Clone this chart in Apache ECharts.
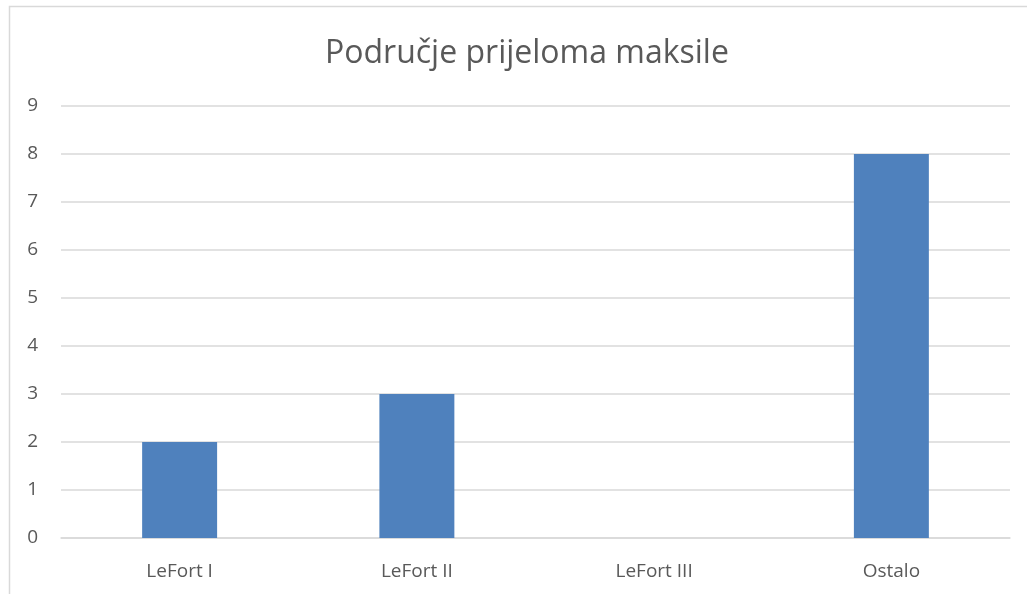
<!DOCTYPE html>
<html>
<head>
<meta charset="utf-8">
<script src="https://cdn.jsdelivr.net/npm/echarts@6/dist/echarts.min.js"></script>
<style>
html,body{margin:0;padding:0;background:#fff;}
#c{width:1027px;height:594px;}
</style>
</head>
<body>
<div id="c"></div>
<script>
const titleText = "Područje prijeloma maksile";
const categories = ["LeFort I", "LeFort II", "LeFort III", "Ostalo"];
const values = [2, 3, 0, 8];
const yTicks = [0, 1, 2, 3, 4, 5, 6, 7, 8, 9];

const chart = echarts.init(document.getElementById('c'), null, {renderer: 'canvas'});
chart.setOption({
  animation: false,
  backgroundColor: '#ffffff',
  title: {
    text: titleText,
    left: 320,
    top: 33,
    textStyle: {fontFamily: 'Open Sans', fontSize: 32, fontWeight: 'normal', color: '#595959'}
  },
  graphic: [{
    type: 'rect',
    shape: {x: 9.5, y: 6.5, width: 1040, height: 620},
    style: {fill: 'none', stroke: '#d9d9d9', lineWidth: 1.5},
    silent: true
  }],
  grid: {left: 61, right: 17, top: 106, bottom: 56, containLabel: false},
  xAxis: {
    type: 'category',
    data: categories,
    axisLine: {show: true, lineStyle: {color: '#d9d9d9', width: 1.5}},
    axisTick: {show: false},
    axisLabel: {fontFamily: 'Open Sans', fontSize: 19, color: '#595959', margin: 24}
  },
  yAxis: {
    type: 'value',
    min: yTicks[0],
    max: yTicks[yTicks.length - 1],
    interval: 1,
    axisLine: {show: false},
    axisTick: {show: false},
    splitLine: {lineStyle: {color: '#d9d9d9', width: 1.5}},
    axisLabel: {fontFamily: 'Open Sans', fontSize: 19, color: '#595959', margin: 23}
  },
  series: [{
    type: 'bar',
    data: values,
    barWidth: '31.6%',
    itemStyle: {color: '#4f81bd'}
  }]
});
</script>
</body>
</html>
